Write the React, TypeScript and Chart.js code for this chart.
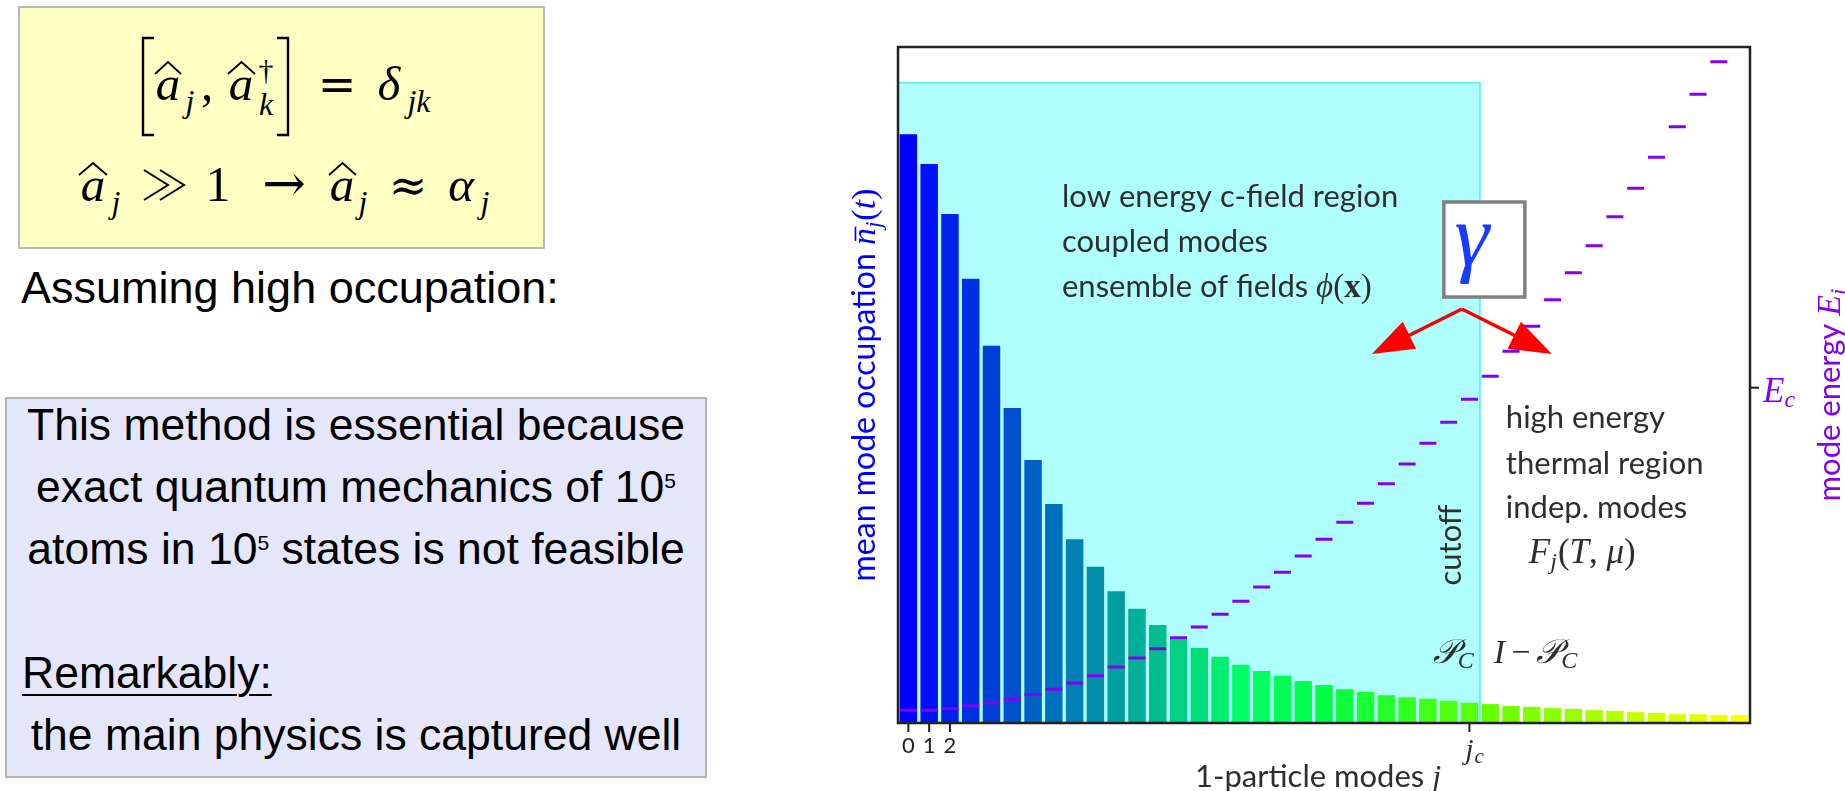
import React, { useEffect, useRef } from 'react';
import { Chart, registerables } from 'chart.js';

Chart.register(...registerables);

// ---- data ----------------------------------------------------------------
const MODE_LABELS = [
  '0', '1', '2', '3', '4', '5', '6', '7', '8', '9',
  '10', '11', '12', '13', '14', '15', '16', '17', '18', '19',
  '20', '21', '22', '23', '24', '25', '26', '27', '28', '29',
  '30', '31', '32', '33', '34', '35', '36', '37', '38', '39', '40',
];

// mean mode occupation n_j (arbitrary units, axis 0..100)
const OCCUPATION = [
  87.1, 82.7, 75.3, 65.7, 55.8, 46.6, 38.9, 32.4, 27.2, 23.1,
  19.5, 16.9, 14.5, 12.4, 11.1, 9.8, 8.6, 7.7, 7.0, 6.2,
  5.6, 5.0, 4.6, 4.1, 3.8, 3.6, 3.3, 3.0, 2.8, 2.5,
  2.4, 2.2, 2.1, 1.9, 1.8, 1.6, 1.5, 1.3, 1.3, 1.2, 1.2,
];

// mode energy E_j (arbitrary units, axis 0..100); the last one lies above the frame
const ENERGY: (number | null)[] = [
  1.9, 1.9, 2.1, 2.5, 3.0, 3.5, 4.2, 5.0, 5.9, 7.0,
  8.3, 9.6, 11.0, 12.6, 14.2, 16.1, 18.0, 20.1, 22.3, 24.7,
  27.2, 29.7, 32.5, 35.4, 38.3, 41.4, 44.5, 47.9, 51.3, 55.0,
  58.7, 62.6, 66.6, 70.6, 74.9, 79.1, 83.7, 88.2, 93.0, 97.8, null,
];

const TICK_MODES = [0, 1, 2];
const CUTOFF_MODE = 27; // j_c
const CUTOFF_ENERGY = 49.6; // E_c
const CFIELD_TOP = 94.7; // height of the c-field band on the occupation axis
const AXIS_MAX = 100;

// ---- styles --------------------------------------------------------------
const SANS = 'Lato, "Open Sans", sans-serif';
const SERIF = '"Liberation Serif", "DejaVu Serif", serif';
const INK = '#2e2e2e';
const BLUE = '#0000ff';
const PURPLE = '#8400f0';

function modeColour(i: number): string {
  const r = i <= 20 ? 0 : Math.round((255 * (i - 20)) / 20);
  const g = Math.min(255, Math.round((255 * i) / 16));
  const b = i <= 16 ? Math.round(255 - 9.5 * i) : Math.max(0, Math.round(103 * (1 - (i - 16) / 12)));
  return `rgb(${r},${g},${b})`;
}

type Run = { t: string; font: string; dy?: number; dx?: number; over?: boolean };

function runsWidth(ctx: CanvasRenderingContext2D, runs: Run[]) {
  let w = 0;
  for (const r of runs) {
    ctx.font = r.font;
    w += ctx.measureText(r.t).width + (r.dx ?? 0);
  }
  return w;
}

function drawRuns(
  ctx: CanvasRenderingContext2D,
  runs: Run[],
  x: number,
  y: number,
  align: 'left' | 'center' | 'right',
  color: string,
) {
  const w = runsWidth(ctx, runs);
  let cx = align === 'center' ? x - w / 2 : align === 'right' ? x - w : x;
  ctx.textAlign = 'left';
  ctx.textBaseline = 'alphabetic';
  ctx.fillStyle = color;
  for (const r of runs) {
    ctx.font = r.font;
    const rw = ctx.measureText(r.t).width;
    ctx.fillText(r.t, cx, y + (r.dy ?? 0));
    if (r.over) {
      const m = r.font.match(/(\d+(?:\.\d+)?)px/);
      const size = m ? parseFloat(m[1]) : 30;
      ctx.fillRect(cx + size * 0.12, y - size * 0.6, rw - size * 0.08, Math.max(1.5, size * 0.05));
    }
    cx += rw + (r.dx ?? 0);
  }
}

function arrow(ctx: CanvasRenderingContext2D, x0: number, y0: number, x1: number, y1: number) {
  const ang = Math.atan2(y1 - y0, x1 - x0);
  const len = 42;
  const half = 15;
  const bx = x1 - Math.cos(ang) * len;
  const by = y1 - Math.sin(ang) * len;
  ctx.beginPath();
  ctx.moveTo(x0, y0);
  ctx.lineTo(bx + Math.cos(ang) * 4, by + Math.sin(ang) * 4);
  ctx.stroke();
  ctx.beginPath();
  ctx.moveTo(x1, y1);
  ctx.lineTo(bx - Math.sin(ang) * half, by + Math.cos(ang) * half);
  ctx.lineTo(bx + Math.sin(ang) * half, by - Math.cos(ang) * half);
  ctx.closePath();
  ctx.fill();
}

// light-cyan band marking the low energy c-field region (modes 0..j_c)
const cfieldBand = {
  id: 'cfieldBand',
  beforeDatasetsDraw(chart: any) {
    const { ctx, chartArea: a, scales } = chart;
    const x = scales.x;
    const pitch = x.getPixelForValue(1) - x.getPixelForValue(0);
    const right = x.getPixelForValue(CUTOFF_MODE) + pitch / 2;
    const top = scales.y.getPixelForValue(CFIELD_TOP);
    ctx.save();
    ctx.fillStyle = '#b0ffff';
    ctx.fillRect(a.left, top, right - a.left, a.bottom - top);
    ctx.strokeStyle = '#66f4f4';
    ctx.lineWidth = 2;
    ctx.beginPath();
    ctx.moveTo(a.left, top);
    ctx.lineTo(right, top);
    ctx.lineTo(right, a.bottom);
    ctx.stroke();
    ctx.restore();
  },
};

// frame, axes decorations and region labels
const annotate = {
  id: 'annotate',
  afterDatasetsDraw(chart: any) {
    const { ctx, chartArea: a, scales } = chart;
    const x = scales.x;
    const y1 = scales.y1;
    const pitch = x.getPixelForValue(1) - x.getPixelForValue(0);
    const cut = x.getPixelForValue(CUTOFF_MODE) + pitch / 2;
    const midY = (a.top + a.bottom) / 2;
    ctx.save();

    // frame
    ctx.strokeStyle = '#222';
    ctx.lineWidth = 2.5;
    ctx.strokeRect(a.left, a.top, a.right - a.left, a.bottom - a.top);

    // x ticks
    ctx.lineWidth = 2;
    for (const m of [...TICK_MODES, CUTOFF_MODE]) {
      const px = x.getPixelForValue(m);
      ctx.beginPath();
      ctx.moveTo(px, a.bottom);
      ctx.lineTo(px, a.bottom + 9);
      ctx.stroke();
    }
    ctx.font = `22px ${SANS}`;
    ctx.fillStyle = '#222';
    ctx.textAlign = 'center';
    ctx.textBaseline = 'alphabetic';
    for (const m of TICK_MODES) ctx.fillText(MODE_LABELS[m], x.getPixelForValue(m), a.bottom + 30);
    drawRuns(
      ctx,
      [
        { t: 'j', font: `italic 30px ${SERIF}`, dx: 1 },
        { t: 'c', font: `italic 21px ${SERIF}`, dy: 4 },
      ],
      x.getPixelForValue(CUTOFF_MODE) + 5,
      a.bottom + 36,
      'center',
      INK,
    );

    // x title
    drawRuns(
      ctx,
      [
        { t: '1-particle modes ', font: `31px ${SANS}` },
        { t: 'j', font: `italic 32px ${SERIF}` },
      ],
      (a.left + a.right) / 2 - 6,
      a.bottom + 64,
      'center',
      INK,
    );

    // right energy tick E_c
    const ec = y1.getPixelForValue(CUTOFF_ENERGY);
    ctx.strokeStyle = '#222';
    ctx.beginPath();
    ctx.moveTo(a.right, ec);
    ctx.lineTo(a.right + 9, ec);
    ctx.stroke();
    drawRuns(
      ctx,
      [
        { t: 'E', font: `italic 35px ${SERIF}` },
        { t: 'c', font: `italic 24px ${SERIF}`, dy: 5 },
      ],
      a.right + 13,
      ec + 14,
      'left',
      PURPLE,
    );

    // left title
    ctx.save();
    ctx.translate(a.left - 23, midY);
    ctx.rotate(-Math.PI / 2);
    drawRuns(
      ctx,
      [
        { t: 'mean mode occupation ', font: `32px ${SANS}` },
        { t: 'n', font: `italic 34px ${SERIF}`, over: true },
        { t: 'j', font: `italic 23px ${SERIF}`, dy: 6, dx: 1 },
        { t: '(', font: `34px ${SERIF}` },
        { t: 't', font: `italic 34px ${SERIF}` },
        { t: ')', font: `34px ${SERIF}` },
      ],
      0,
      0,
      'center',
      BLUE,
    );
    ctx.restore();

    // right title
    ctx.save();
    ctx.translate(a.right + 90, midY + 10);
    ctx.rotate(-Math.PI / 2);
    drawRuns(
      ctx,
      [
        { t: 'mode energy ', font: `31px ${SANS}` },
        { t: 'E', font: `italic 34px ${SERIF}` },
        { t: 'i', font: `italic 23px ${SERIF}`, dy: 6 },
      ],
      0,
      0,
      'center',
      PURPLE,
    );
    ctx.restore();

    // c-field region text
    const left1 = a.left + 164;
    ctx.fillStyle = INK;
    drawRuns(ctx, [{ t: 'low energy c-field region', font: `31px ${SANS}` }], left1, 207, 'left', INK);
    drawRuns(ctx, [{ t: 'coupled modes', font: `31px ${SANS}` }], left1, 252, 'left', INK);
    drawRuns(
      ctx,
      [
        { t: 'ensemble of fields ', font: `31px ${SANS}` },
        { t: '\u03D5', font: `italic 33px ${SERIF}` },
        { t: '(', font: `33px ${SERIF}` },
        { t: 'x', font: `bold 33px ${SERIF}` },
        { t: ')', font: `33px ${SERIF}` },
      ],
      left1,
      297,
      'left',
      INK,
    );

    // thermal region text
    const left2 = cut + 26;
    drawRuns(ctx, [{ t: 'high energy', font: `31px ${SANS}` }], left2, 428, 'left', INK);
    drawRuns(ctx, [{ t: 'thermal region', font: `31px ${SANS}` }], left2, 474, 'left', INK);
    drawRuns(ctx, [{ t: 'indep. modes', font: `31px ${SANS}` }], left2, 518, 'left', INK);
    drawRuns(
      ctx,
      [
        { t: 'F', font: `italic 35px ${SERIF}` },
        { t: 'j', font: `italic 24px ${SERIF}`, dy: 6, dx: 1 },
        { t: '(', font: `35px ${SERIF}` },
        { t: 'T', font: `italic 35px ${SERIF}` },
        { t: ', ', font: `35px ${SERIF}` },
        { t: '\u03BC', font: `italic 35px ${SERIF}` },
        { t: ')', font: `35px ${SERIF}` },
      ],
      cut + 49,
      563,
      'left',
      INK,
    );

    // projector labels either side of the cutoff
    drawRuns(
      ctx,
      [
        { t: '\uD835\uDCAB', font: `italic 34px ${SERIF}` },
        { t: 'C', font: `italic 24px ${SERIF}`, dy: 5 },
      ],
      cut - 6,
      663,
      'right',
      INK,
    );
    drawRuns(
      ctx,
      [
        { t: 'I', font: `italic 34px ${SERIF}`, dx: 6 },
        { t: '\u2212', font: `34px ${SERIF}`, dx: 6 },
        { t: '\uD835\uDCAB', font: `italic 34px ${SERIF}` },
        { t: 'C', font: `italic 24px ${SERIF}`, dy: 5 },
      ],
      cut + 14,
      663,
      'left',
      INK,
    );

    // vertical "cutoff"
    ctx.save();
    ctx.translate(cut - 19, 545);
    ctx.rotate(-Math.PI / 2);
    drawRuns(ctx, [{ t: 'cutoff', font: `31px ${SANS}` }], 0, 0, 'center', INK);
    ctx.restore();

    // gamma box with arrows into both regions
    const bx0 = cut - 36;
    const bx1 = cut + 45;
    ctx.fillStyle = '#ffffff';
    ctx.fillRect(bx0, 202, bx1 - bx0, 95);
    ctx.strokeStyle = '#808080';
    ctx.lineWidth = 3.5;
    ctx.strokeRect(bx0, 202, bx1 - bx0, 95);
    ctx.font = `italic 88px "Liberation Serif", serif`;
    ctx.fillStyle = '#1a3cff';
    ctx.textAlign = 'center';
    ctx.fillText('\u03B3', cut - 8, 265);

    ctx.strokeStyle = '#ff0000';
    ctx.fillStyle = '#ff0000';
    ctx.lineWidth = 3.5;
    const ax = cut - 18;
    arrow(ctx, ax, 309, cut - 108, 354);
    arrow(ctx, ax, 309, cut + 72, 354);

    ctx.restore();
  },
};

// ---- left panel helpers --------------------------------------------------
const MATH = '"Liberation Serif", "DejaVu Serif", serif';
const SYM = '"DejaVu Serif", serif';

function Hat({ x0, x1, y }: { x0: number; x1: number; y: number }) {
  const xm = (x0 + x1) / 2;
  return (
    <polyline
      points={`${x0},${y + 12} ${xm},${y} ${x1},${y + 12}`}
      fill="none"
      stroke="#000"
      strokeWidth={1.8}
    />
  );
}

function T({
  x,
  y,
  s,
  it,
  f,
  children,
}: {
  x: number;
  y: number;
  s: number;
  it?: boolean;
  f?: string;
  children: React.ReactNode;
}) {
  return (
    <text
      x={x}
      y={y}
      fontSize={s}
      fontStyle={it ? 'italic' : 'normal'}
      textAnchor="middle"
      fontFamily={f ?? MATH}
      fill="#000"
    >
      {children}
    </text>
  );
}

function Formulas() {
  return (
    <svg width={560} height={260} style={{ position: 'absolute', left: 0, top: 0 }}>
      {/* [a_j, a_k^dagger] = delta_jk */}
      <path d="M154 38 L143 38 L143 135 L154 135" fill="none" stroke="#000" strokeWidth={2.4} />
      <T x={168} y={100} s={49} it>a</T>
      <Hat x0={155} x1={181} y={62} />
      <T x={190} y={112} s={32} it>j</T>
      <T x={207} y={100} s={49}>,</T>
      <T x={241} y={100} s={49} it>a</T>
      <Hat x0={228} x1={255} y={62} />
      <T x={266} y={80} s={30}>{'\u2020'}</T>
      <T x={266} y={115} s={32} it>k</T>
      <path d="M277 38 L288 38 L288 135 L277 135" fill="none" stroke="#000" strokeWidth={2.4} />
      <T x={337} y={100} s={46} f={SYM}>=</T>
      <T x={389} y={100} s={49} it>{'\u03B4'}</T>
      <T x={419} y={112} s={32} it>jk</T>

      {/* a_j >> 1 -> a_j ~ alpha_j */}
      <T x={93} y={201} s={49} it>a</T>
      <Hat x0={79} x1={107} y={163} />
      <T x={116} y={213} s={32} it>j</T>
      {/* much-greater-than sign as two thin chevrons */}
      <path d="M144 170 L168 185 L144 200 M160 170 L184 185 L160 200" fill="none" stroke="#000" strokeWidth={2} />
      <T x={218} y={201} s={50}>1</T>
      <T x={284} y={201} s={52} f={SYM}>{'\u2192'}</T>
      <T x={342} y={201} s={49} it>a</T>
      <Hat x0={329} x1={356} y={163} />
      <T x={363} y={213} s={32} it>j</T>
      <T x={408} y={201} s={46} f={SYM}>{'\u2248'}</T>
      <T x={461} y={201} s={49} it>{'\u03B1'}</T>
      <T x={485} y={213} s={32} it>j</T>
    </svg>
  );
}

const SUP: React.CSSProperties = { fontSize: 21, verticalAlign: '14px', lineHeight: 0 };

export default function App() {
  const canvasRef = useRef<HTMLCanvasElement>(null);

  useEffect(() => {
    const canvas = canvasRef.current;
    if (!canvas) return;
    const chart = new Chart(canvas, {
      type: 'bar',
      data: {
        labels: MODE_LABELS,
        datasets: [
          {
            type: 'line',
            label: 'mode energy',
            data: ENERGY,
            yAxisID: 'y1',
            showLine: false,
            pointStyle: 'line',
            pointRadius: 8.5,
            pointHoverRadius: 8.5,
            pointBorderWidth: 3,
            pointBorderColor: PURPLE,
            borderColor: PURPLE,
            order: 0,
          } as any,
          {
            type: 'bar',
            label: 'mean mode occupation',
            data: OCCUPATION,
            yAxisID: 'y',
            backgroundColor: OCCUPATION.map((_, i) => modeColour(i)),
            borderWidth: 0,
            barPercentage: 0.84,
            categoryPercentage: 1,
            order: 1,
          },
        ],
      },
      options: {
        responsive: false,
        devicePixelRatio: 1,
        animation: false,
        events: [],
        layout: { padding: { left: 198, right: 95, top: 47, bottom: 68 } },
        plugins: { legend: { display: false }, tooltip: { enabled: false } },
        scales: {
          x: { type: 'category', display: false, offset: true, grid: { display: false } },
          y: { display: false, min: 0, max: AXIS_MAX },
          y1: { display: false, min: 0, max: AXIS_MAX, position: 'right' },
        },
      },
      plugins: [cfieldBand, annotate],
    });
    return () => chart.destroy();
  }, []);

  const sans = '"Liberation Sans", Arial, sans-serif';

  return (
    <div
      style={{
        position: 'absolute',
        left: 0,
        top: 0,
        width: 1845,
        height: 791,
        background: '#ffffff',
        overflow: 'hidden',
      }}
    >
      <div
        style={{
          position: 'absolute',
          left: 18,
          top: 6,
          width: 527,
          height: 243,
          background: '#ffffc4',
          border: '2px solid #b8b8b8',
          boxSizing: 'border-box',
        }}
      />
      <Formulas />
      <div
        style={{
          position: 'absolute',
          left: 21,
          top: 265,
          fontFamily: sans,
          fontSize: 45,
          lineHeight: '45px',
          whiteSpace: 'nowrap',
          color: '#000',
        }}
      >
        Assuming high occupation:
      </div>

      <div
        style={{
          position: 'absolute',
          left: 5,
          top: 397,
          width: 702,
          height: 381,
          background: '#e6e6fa',
          border: '2px solid #b4b4b4',
          boxSizing: 'border-box',
        }}
      />
      <div
        style={{
          position: 'absolute',
          left: 5,
          top: 394,
          width: 702,
          fontFamily: sans,
          fontSize: 44.5,
          lineHeight: '62px',
          textAlign: 'center',
          whiteSpace: 'nowrap',
          color: '#000',
        }}
      >
        <div>This method is essential because</div>
        <div>
          exact quantum mechanics of 10<span style={SUP}>5</span>
        </div>
        <div>
          atoms in 10<span style={SUP}>5</span> states is not feasible
        </div>
        <div style={{ height: 62 }} />
        <div style={{ textAlign: 'left', paddingLeft: 17 }}>
          <span style={{ textDecoration: 'underline', textUnderlineOffset: '6px', textDecorationThickness: '2px' }}>
            Remarkably:
          </span>
        </div>
        <div>the main physics is captured well</div>
      </div>

      <canvas
        ref={canvasRef}
        width={1145}
        height={791}
        style={{ position: 'absolute', left: 700, top: 0 }}
      />
    </div>
  );
}
